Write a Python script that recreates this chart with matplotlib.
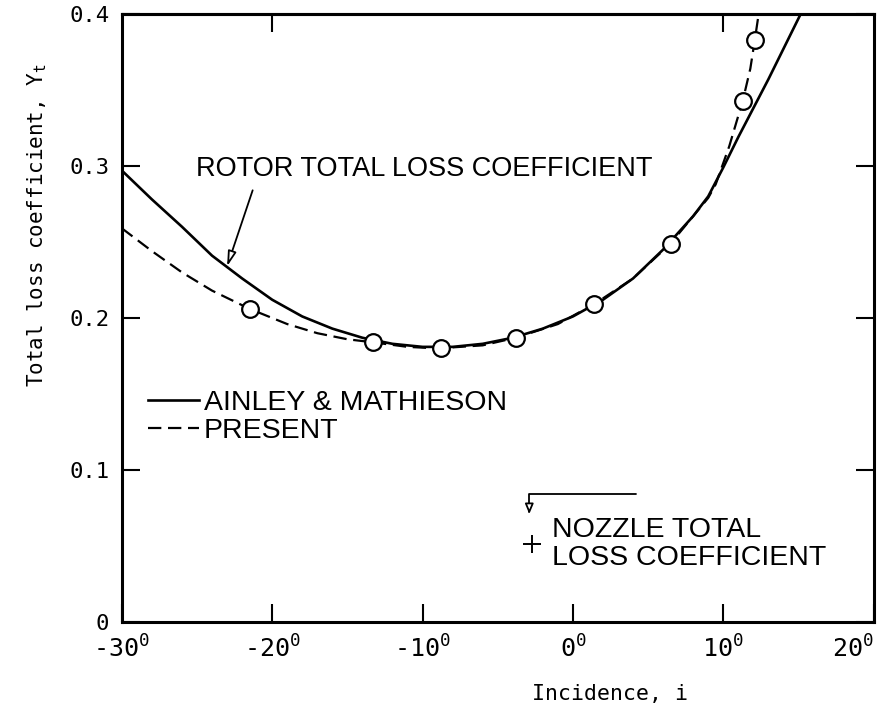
import numpy as np
import matplotlib
matplotlib.use("Agg")
import matplotlib.pyplot as plt
from matplotlib.lines import Line2D

plt.rcParams["mathtext.fontset"] = "custom"
plt.rcParams["mathtext.rm"] = "DejaVu Sans Mono"
plt.rcParams["mathtext.it"] = "DejaVu Sans Mono"

# Ainley & Mathieson (solid curve)
am_incidence = [-30, -28, -26, -24, -22, -20, -18, -16, -14, -12, -10, -8, -6, -4,
                -2, 0, 2, 4, 6, 8, 9, 10, 11, 12, 13, 14, 15, 15.4]
am_loss = [0.297, 0.278, 0.260, 0.241, 0.226, 0.212, 0.201, 0.193, 0.187, 0.183,
           0.181, 0.181, 0.183, 0.187, 0.193, 0.201, 0.212, 0.226, 0.245, 0.267,
           0.280, 0.299, 0.319, 0.338, 0.357, 0.377, 0.397, 0.405]

# present method (dashed curve)
pr_incidence = [-30, -28, -26, -24, -21.5, -19, -17, -15, -13.3, -11, -9, -6, -3.8,
                -1, 1.4, 4, 6.5, 8, 9, 9.5, 10.4, 11.3, 11.8, 12.1, 12.4]
pr_loss = [0.259, 0.244, 0.230, 0.218, 0.206, 0.196, 0.190, 0.186, 0.184, 0.181,
           0.180, 0.182, 0.187, 0.196, 0.209, 0.226, 0.249, 0.267, 0.279, 0.288,
           0.313, 0.343, 0.364, 0.383, 0.403]

# measured points (circles)
exp_incidence = [-21.5, -13.3, -8.8, -3.8, 1.4, 6.5, 11.3, 12.1]
exp_loss = [0.206, 0.184, 0.180, 0.187, 0.209, 0.249, 0.343, 0.383]

# nozzle total loss coefficient (cross)
nozzle_incidence = [-2.7]
nozzle_loss = [0.051]

x_ticks = [-30, -20, -10, 0, 10, 20]
x_ticklabels = [r"$\text{-}30^{0}$", r"$\text{-}20^{0}$", r"$\text{-}10^{0}$",
                r"$0^{0}$", r"$10^{0}$", r"$20^{0}$"]
top_ticks = [-20, 10]
y_ticks = [0, 0.1, 0.2, 0.3, 0.4]
y_ticklabels = ["0", "0.1", "0.2", "0.3", "0.4"]

mono = ["DejaVu Sans Mono", "DejaVu Sans"]
sans = ["Liberation Sans", "DejaVu Sans"]

fig = plt.figure(figsize=(8.96, 7.17), dpi=100)
ax = fig.add_axes([0.136, 0.1325, 0.839, 0.848])

dash = (0, (6, 3))
ax.plot(pr_incidence, pr_loss, color="black", lw=1.6, linestyle=dash)
ax.plot(am_incidence, am_loss, color="black", lw=1.9)
ax.plot(exp_incidence, exp_loss, "o", ms=12, mfc="white", mec="black", mew=1.6)
ax.plot(nozzle_incidence, nozzle_loss, "+", ms=13, mec="black", mew=1.4)

ax.set_xlim(-30, 20)
ax.set_ylim(0, 0.4)

ax.set_xticks(x_ticks)
ax.set_xticklabels(x_ticklabels, fontsize=18)
ax.get_xticklabels()[-1].set_horizontalalignment("right")
ax.set_yticks(y_ticks)
ax.set_yticklabels(y_ticklabels, family=mono, fontsize=16)
ax.tick_params(direction="in", length=13, width=1.5, right=True)
ax.tick_params(axis="x", pad=10)
ax.tick_params(axis="y", pad=9)
for s in ax.spines.values():
    s.set_linewidth(2.2)

top = ax.secondary_xaxis("top")
top.set_xticks(top_ticks)
top.set_xticklabels([])
top.tick_params(direction="in", length=13, width=1.5)
top.spines["top"].set_linewidth(2.2)

ax.set_xlabel("Incidence, i", family=mono, fontsize=15.5)
ax.set_ylabel(r"Total loss coefficient, $\mathrm{Y_t}$", family=mono, fontsize=15)
ax.xaxis.set_label_coords(0.649, -0.102)
ax.yaxis.set_label_coords(-0.097, 0.653)

# rotor label and arrow
ax.text(-25.1, 0.298, "ROTOR TOTAL LOSS COEFFICIENT", family=sans, fontsize=19.5,
        va="center", ha="left")
ax.annotate("", xy=(-23.0, 0.234), xytext=(-21.3, 0.284),
            arrowprops=dict(arrowstyle="-|>,head_length=0.9,head_width=0.25",
                            color="black", lw=1.3, fc="white",
                            shrinkA=0, shrinkB=0))

# nozzle label with bracket arrow
ax.annotate("", xy=(-2.9, 0.071), xytext=(4.2, 0.084),
            arrowprops=dict(arrowstyle="-|>,head_length=0.6,head_width=0.25",
                            connectionstyle="angle,angleA=0,angleB=90,rad=0",
                            color="black", lw=1.3, fc="white",
                            shrinkA=0, shrinkB=0))
ax.text(-1.4, 0.0605, "NOZZLE TOTAL", family=sans, fontsize=20.5,
        va="center", ha="left")
ax.text(-1.4, 0.042, "LOSS COEFFICIENT", family=sans, fontsize=20.5,
        va="center", ha="left")

handles = [Line2D([], [], color="black", lw=1.9),
           Line2D([], [], color="black", lw=1.6, linestyle=dash)]
ax.legend(handles, ["AINLEY & MATHIESON", "PRESENT"], loc="center left",
          bbox_to_anchor=(0.035, 0.337), frameon=False, borderpad=0,
          borderaxespad=0, handlelength=1.8, handletextpad=0.15,
          labelspacing=0.05, prop=dict(family=sans, size=20.5))

fig.savefig("out.png", dpi=100)
